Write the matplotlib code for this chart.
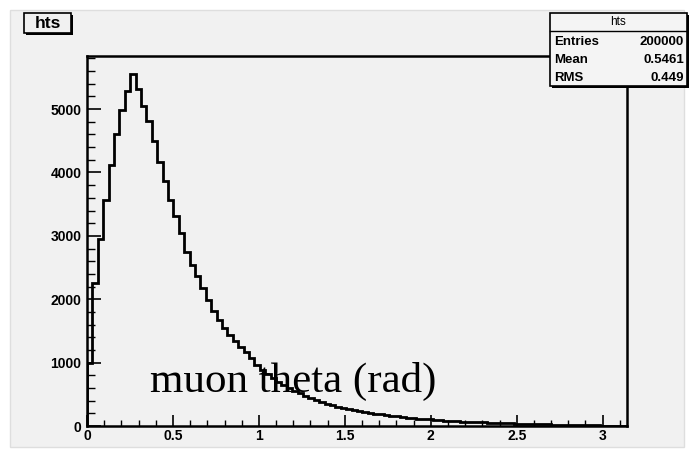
import numpy as np
import matplotlib
matplotlib.use("Agg")
import matplotlib.pyplot as plt
from matplotlib.patches import Rectangle

# Histogram contents: 100 bins of muon theta between 0 and pi
counts = [
    1000, 2250, 2950, 3560, 4120, 4600, 4980, 5290, 5560, 5320,
    5050, 4810, 4490, 4170, 3870, 3560, 3320, 3040, 2750, 2540,
    2360, 2180, 1990, 1820, 1680, 1550, 1440, 1340, 1250, 1170,
    1070, 960, 880, 815, 750, 700, 645, 600, 560, 515,
    480, 445, 410, 380, 355, 330, 305, 285, 265, 252,
    236, 220, 206, 196, 182, 171, 160, 151, 141, 134,
    126, 117, 111, 103, 98, 91, 86, 81, 76, 71,
    67, 63, 58, 56, 52, 48, 46, 43, 40, 38,
    35, 33, 30, 28, 26, 24, 22, 20, 19, 17,
    15, 13, 12, 10, 9, 7, 6, 4, 3, 1,
]
x_low, x_high = 0.0, np.pi
hist_name = "hts"
stat_labels = ["Entries", "Mean", "RMS"]
stat_values = ["200000", "0.5461", "0.449"]
x_ticks = [0, 0.5, 1, 1.5, 2, 2.5, 3]
x_tick_labels = ["0", "0.5", "1", "1.5", "2", "2.5", "3"]
y_ticks = [0, 1000, 2000, 3000, 4000, 5000]
axis_title = "muon theta (rad)"

W, H = 694, 463
fig = plt.figure(figsize=(W / 100, H / 100), dpi=100, facecolor="white")

# full-figure layer in pixel coordinates (y down) for the canvas
bg = fig.add_axes([0, 0, 1, 1], zorder=0)
bg.set_xlim(0, W)
bg.set_ylim(H, 0)
bg.axis("off")
bg.add_patch(Rectangle((10, 10), 674, 437, facecolor="#f1f1f1",
                       edgecolor="#dedede", lw=1))

left, right, top, bottom = 87, 627, 56, 426
ax = fig.add_axes([left / W, 1 - bottom / H, (right - left) / W, (bottom - top) / H],
                  zorder=1)
ax.set_facecolor("#f1f1f1")

edges = np.linspace(x_low, x_high, len(counts) + 1)
ax.stairs(counts, edges, color="black", lw=2.0)

ax.set_xlim(x_low, x_high)
ax.set_ylim(0, 1.05 * max(counts))

for s in ax.spines.values():
    s.set_linewidth(1.8)
    s.set_color("black")

ax.set_xticks(x_ticks)
ax.set_xticklabels(x_tick_labels)
ax.set_xticks(np.arange(0, 3.15, 0.1), minor=True)
ax.set_yticks(y_ticks)
ax.set_yticks(np.arange(0, 5801, 200), minor=True)

for lab in ax.get_xticklabels() + ax.get_yticklabels():
    lab.set_fontfamily("Liberation Sans")
    lab.set_fontweight("bold")
    lab.set_fontsize(10)

ax.tick_params(axis="x", which="major", direction="in", length=8, width=1.2, pad=2)
ax.tick_params(axis="x", which="minor", direction="in", length=4, width=1.0)
ax.tick_params(axis="y", which="major", direction="in", length=10, width=1.2, pad=4)
ax.tick_params(axis="y", which="minor", direction="in", length=5.5, width=1.0)

# overlay layer above the frame for the axis title and the boxes
fg = fig.add_axes([0, 0, 1, 1], zorder=2)
fg.set_xlim(0, W)
fg.set_ylim(H, 0)
fg.axis("off")
fg.patch.set_alpha(0)

fg.text(150, 392, axis_title, family="Liberation Serif", fontsize=31,
        ha="left", va="baseline", color="black")

# title box
tb_x0, tb_y0, tb_x1, tb_y1 = 24, 13, 71, 33
fg.add_patch(Rectangle((tb_x0 + 2, tb_y0 + 2), tb_x1 - tb_x0, tb_y1 - tb_y0,
                       facecolor="black", edgecolor="none"))
fg.add_patch(Rectangle((tb_x0, tb_y0), tb_x1 - tb_x0, tb_y1 - tb_y0,
                       facecolor="#f1f1f1", edgecolor="black", lw=1.2))
fg.text((tb_x0 + tb_x1) / 2, (tb_y0 + tb_y1) / 2 + 1, hist_name,
        family="Liberation Sans", weight="bold", fontsize=12.5, ha="center", va="center")

# statistics box
sb_x0, sb_y0, sb_x1, sb_y1 = 550, 13, 687, 86
fg.add_patch(Rectangle((sb_x0 + 2, sb_y0 + 2), sb_x1 - sb_x0, sb_y1 - sb_y0,
                       facecolor="black", edgecolor="none"))
fg.add_patch(Rectangle((sb_x0, sb_y0), sb_x1 - sb_x0, sb_y1 - sb_y0,
                       facecolor="#f4f4f4", edgecolor="black", lw=1.2))
fg.plot([sb_x0, sb_x1], [31, 31], color="black", lw=1.0)
fg.text((sb_x0 + sb_x1) / 2, 22, hist_name, family="Liberation Sans",
        fontsize=8.5, ha="center", va="center")
for i, (lab, val) in enumerate(zip(stat_labels, stat_values)):
    yy = 42 + i * 18
    fg.text(sb_x0 + 4, yy, lab, family="Liberation Sans", weight="bold",
            fontsize=9.5, ha="left", va="center")
    fg.text(sb_x1 - 3, yy, val, family="Liberation Sans", weight="bold",
            fontsize=9.5, ha="right", va="center")

fig.savefig("out.png", dpi=100, facecolor=fig.get_facecolor())
